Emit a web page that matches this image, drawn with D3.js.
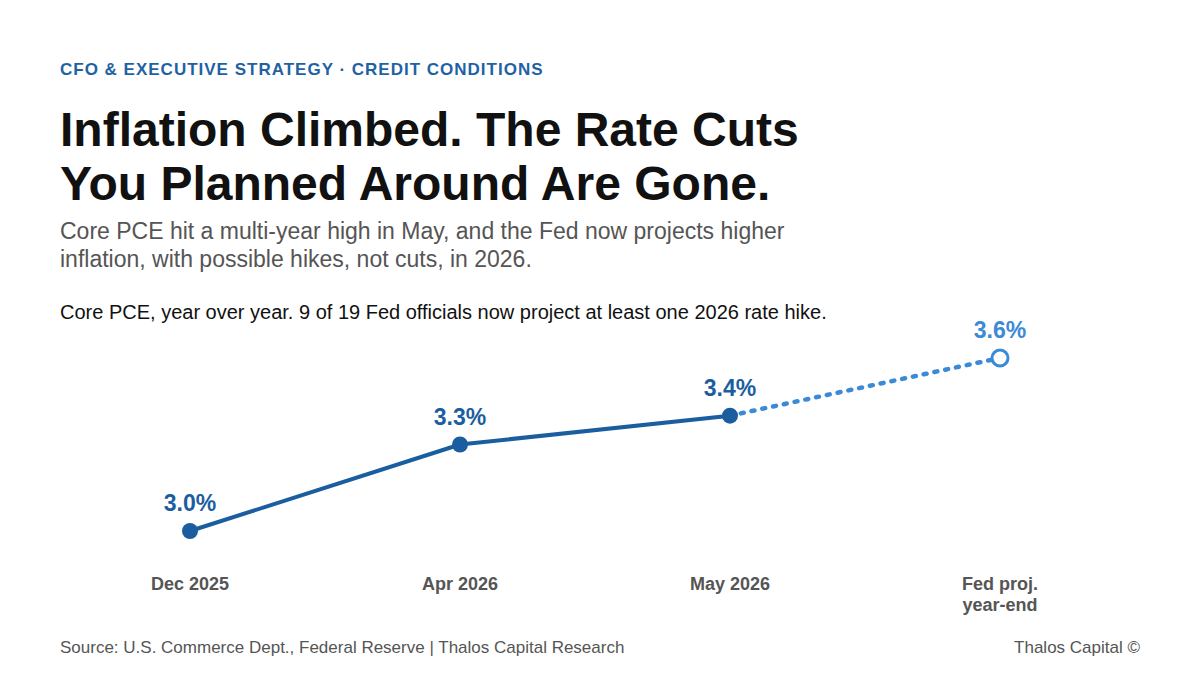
<!DOCTYPE html>
<html>
<head>
<meta charset="utf-8">
<script src="https://cdn.jsdelivr.net/npm/d3@7"></script>
<style>
  body { margin: 0; background: #fff; }
  svg { display: block; font-family: "Liberation Sans", Arial, sans-serif; }
</style>
</head>
<body>
<div id="chart"></div>
<script>
// data
const categories = ["Dec 2025", "Apr 2026", "May 2026", "Fed proj.|year-end"]
const values = [3.0, 3.3, 3.4, 3.6]
const valueLabels = ["3.0%", "3.3%", "3.4%", "3.6%"]
const projectedFrom = 2 // index where the projection starts

const dark = "#1b5e9f"
const light = "#3a8ad8"

const width = 1200
const height = 675

const svg = d3.select("#chart").append("svg")
    .attr("width", width)
    .attr("height", height)

// header
svg.append("text")
    .attr("x", 60).attr("y", 75)
    .attr("fill", "#1f62a3")
    .attr("font-size", 17).attr("font-weight", 700)
    .attr("letter-spacing", 1.0)
    .text("CFO & EXECUTIVE STRATEGY · CREDIT CONDITIONS")

const title = ["Inflation Climbed. The Rate Cuts", "You Planned Around Are Gone."]
svg.selectAll(".title").data(title).enter().append("text")
    .attr("class", "title")
    .attr("x", 60).attr("y", (d, i) => 146 + i * 54)
    .attr("fill", "#111").attr("font-size", 48).attr("font-weight", 700)
    .text(d => d)

const subtitle = ["Core PCE hit a multi-year high in May, and the Fed now projects higher",
  "inflation, with possible hikes, not cuts, in 2026."]
svg.selectAll(".subtitle").data(subtitle).enter().append("text")
    .attr("class", "subtitle")
    .attr("x", 60).attr("y", (d, i) => 239 + i * 28)
    .attr("fill", "#555").attr("font-size", 23)
    .text(d => d)

svg.append("text")
    .attr("x", 60).attr("y", 319)
    .attr("fill", "#111").attr("font-size", 20)
    .text("Core PCE, year over year. 9 of 19 Fed officials now project at least one 2026 rate hike.")

// scales
const x = d3.scalePoint()
    .domain(categories)
    .range([190, 1000])

const y = d3.scaleLinear()
    .domain([3.0, 3.6])
    .range([531, 358])

const points = categories.map((c, i) => ({ c, v: values[i], label: valueLabels[i], i }))

const line = d3.line()
    .x(d => x(d.c))
    .y(d => y(d.v))

// actual
svg.append("path")
    .datum(points.slice(0, projectedFrom + 1))
    .attr("d", line)
    .attr("fill", "none")
    .attr("stroke", dark)
    .attr("stroke-width", 4)
    .attr("stroke-linejoin", "round")

// projection
svg.append("path")
    .datum(points.slice(projectedFrom))
    .attr("d", line)
    .attr("fill", "none")
    .attr("stroke", light)
    .attr("stroke-width", 4.5)
    .attr("stroke-linecap", "round")
    .attr("stroke-dasharray", "3 8")

svg.selectAll(".dot").data(points).enter().append("circle")
    .attr("class", "dot")
    .attr("cx", d => x(d.c))
    .attr("cy", d => y(d.v))
    .attr("r", 8)
    .attr("fill", d => d.i > projectedFrom ? "#fff" : dark)
    .attr("stroke", d => d.i > projectedFrom ? light : "none")
    .attr("stroke-width", 3)

svg.selectAll(".val").data(points).enter().append("text")
    .attr("class", "val")
    .attr("x", d => x(d.c))
    .attr("y", d => y(d.v) - 20)
    .attr("text-anchor", "middle")
    .attr("fill", d => d.i > projectedFrom ? light : dark)
    .attr("font-size", 23).attr("font-weight", 700)
    .text(d => d.label)

// x labels
const xl = svg.selectAll(".xl").data(categories).enter().append("text")
    .attr("class", "xl")
    .attr("text-anchor", "middle")
    .attr("fill", "#555").attr("font-size", 18).attr("font-weight", 700)
xl.selectAll("tspan").data(d => d.split("|").map(t => ({ t, c: d }))).enter().append("tspan")
    .attr("x", d => x(d.c))
    .attr("y", (d, i) => 590 + i * 21)
    .text(d => d.t)

// footer
svg.append("text")
    .attr("x", 60).attr("y", 653)
    .attr("fill", "#555").attr("font-size", 17)
    .text("Source: U.S. Commerce Dept., Federal Reserve | Thalos Capital Research")

svg.append("text")
    .attr("x", 1140).attr("y", 653)
    .attr("text-anchor", "end")
    .attr("fill", "#555").attr("font-size", 17)
    .text("Thalos Capital ©")
</script>
</body>
</html>
